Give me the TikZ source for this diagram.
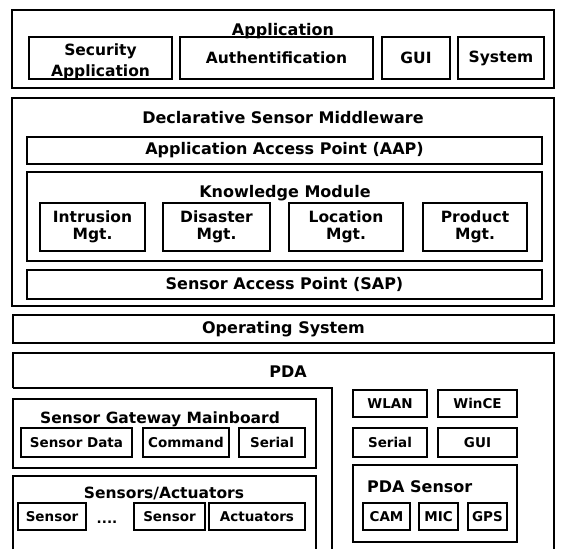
\documentclass[tikz,border=0pt]{standalone}
\usepackage{fontspec}
\setmainfont{DejaVu Sans}

\begin{document}
\begin{tikzpicture}[x=1pt, y=-1pt]
	\tikzstyle{frame} = [draw=black, line width=1.3pt, rectangle, inner sep=0pt]
	\tikzstyle{box} = [frame, font=\fontsize{15.5}{17}\selectfont\bfseries, align=center]
	\tikzstyle{small} = [frame, font=\fontsize{13.5}{15}\selectfont\bfseries, align=center]
	\tikzstyle{title} = [font=\fontsize{16}{18}\selectfont\bfseries, anchor=base, inner sep=0pt]
	\tikzstyle{line} = [line width=1.3pt, line join=miter]

	\useasboundingbox (0, 0) rectangle (562, 549);

	% application layer
	\node[frame, minimum width=542pt, minimum height=78pt] at (283, 49) (app) {};
	\node[title] at (283, 35) (appt) {Application};
	\node[box, font=\fontsize{15.5}{21}\selectfont\bfseries, text height=36pt, text depth=0pt, minimum width=143pt, minimum height=42pt] at (100.5, 58) (sec) {Security\\Application};
	\node[box, minimum width=193pt, minimum height=42pt] at (276.5, 58) (auth) {Authentification};
	\node[box, minimum width=68pt, minimum height=42pt] at (416, 58) (gui) {GUI};
	\node[box, minimum width=86pt, minimum height=42pt] at (501, 58) (sys) {System};

	% middleware
	\node[frame, minimum width=542pt, minimum height=208pt] at (283, 202) (mw) {};
	\node[title] at (283, 123) (mwt) {Declarative Sensor Middleware};
	\node[box, font=\fontsize{16}{18}\selectfont\bfseries, minimum width=515pt, minimum height=27pt] at (284.5, 150.5) (aap) {Application Access Point (AAP)};
	\node[frame, minimum width=515pt, minimum height=89pt] at (284.5, 216.5) (km) {};
	\node[title] at (285, 197) (kmt) {Knowledge Module};
	\node[box, minimum width=105pt, minimum height=48pt] at (92.5, 227) (intr) {Intrusion\\Mgt.};
	\node[box, minimum width=107pt, minimum height=48pt] at (216.5, 227) (dis) {Disaster\\Mgt.};
	\node[box, minimum width=114pt, minimum height=48pt] at (346, 227) (loc) {Location\\Mgt.};
	\node[box, minimum width=104pt, minimum height=48pt] at (475, 227) (prod) {Product\\Mgt.};
	\node[box, font=\fontsize{16}{18}\selectfont\bfseries, minimum width=515pt, minimum height=29pt] at (284.5, 284.5) (sap) {Sensor Access Point (SAP)};

	% os
	\node[box, font=\fontsize{16}{18}\selectfont\bfseries, minimum width=541pt, minimum height=28pt] at (283.5, 329) (os) {Operating System};

	% pda
	\draw[line] (13, 388) -- (13, 353) -- (554, 353) -- (554, 549);
	\draw[line] (13, 388) -- (332, 388) -- (332, 549);
	\node[title] at (288, 377) (pda) {PDA};

	\node[frame, minimum width=303pt, minimum height=69pt] at (164.5, 433.5) (sgm) {};
	\node[title, font=\fontsize{15.5}{17}\selectfont\bfseries] at (160, 423) (sgmt) {Sensor Gateway Mainboard};
	\node[small, minimum width=111pt, minimum height=29pt] at (76.5, 442.5) (sdata) {Sensor Data};
	\node[small, minimum width=86pt, minimum height=29pt] at (186, 442.5) (cmd) {Command};
	\node[small, minimum width=66pt, minimum height=29pt] at (272, 442.5) (ser) {Serial};

	\draw[line] (13, 549) -- (13, 476) -- (316, 476) -- (316, 549);
	\node[title, font=\fontsize{15.5}{17}\selectfont\bfseries] at (164, 498) (sat) {Sensors/Actuators};
	\node[small, minimum width=68pt, minimum height=27pt] at (52, 516.5) (sen1) {Sensor};
	\node[title, font=\fontsize{13.5}{15}\selectfont\bfseries] at (107, 523) (dots) {....};
	\node[small, minimum width=71pt, minimum height=27pt] at (169.5, 516.5) (sen2) {Sensor};
	\node[small, minimum width=96pt, minimum height=27pt] at (257, 516.5) (act) {Actuators};

	\node[small, minimum width=74pt, minimum height=27pt] at (390, 403.5) (wlan) {WLAN};
	\node[small, minimum width=79pt, minimum height=27pt] at (477.5, 403.5) (wince) {WinCE};
	\node[small, minimum width=74pt, minimum height=29pt] at (390, 442.5) (ser2) {Serial};
	\node[small, minimum width=79pt, minimum height=29pt] at (477.5, 442.5) (gui2) {GUI};
	\node[frame, minimum width=164pt, minimum height=77pt] at (435, 503.5) (pdas) {};
	\node[title, anchor=base west] at (367, 492) (pdast) {PDA Sensor};
	\node[small, minimum width=47pt, minimum height=27pt] at (386.5, 516.5) (cam) {CAM};
	\node[small, minimum width=39pt, minimum height=27pt] at (438.5, 516.5) (mic) {MIC};
	\node[small, minimum width=39pt, minimum height=27pt] at (487.5, 516.5) (gps) {GPS};
\end{tikzpicture}
\end{document}
